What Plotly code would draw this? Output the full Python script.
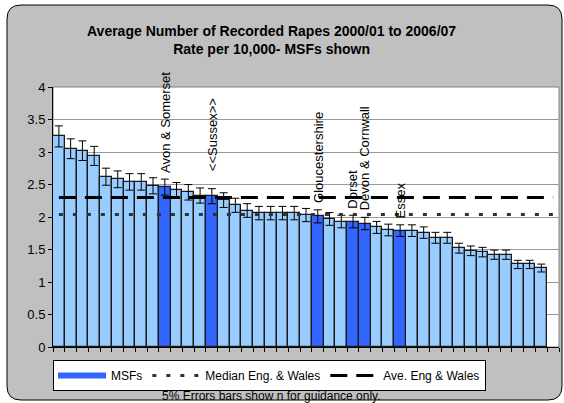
import plotly.graph_objects as go

# ---------------- data ----------------
values = [3.24, 3.05, 3.02, 2.94, 2.62, 2.58, 2.54, 2.54, 2.48, 2.46,
          2.41, 2.38, 2.33, 2.32, 2.26, 2.18, 2.10, 2.06, 2.06, 2.06,
          2.06, 2.03, 2.01, 1.97, 1.93, 1.93, 1.90, 1.84, 1.80, 1.79,
          1.79, 1.76, 1.68, 1.68, 1.52, 1.48, 1.46, 1.42, 1.42, 1.27,
          1.27, 1.215]
msf_labels = {10: "Avon & Somerset", 14: "<<Sussex>>", 23: "Gloucestershire",
              26: "Dorset", 27: "Devon & Cornwall", 30: "Essex"}
n_slots = 43
median_ew = 2.04
average_ew = 2.30
y_ticks = [0, 0.5, 1, 1.5, 2, 2.5, 3, 3.5, 4]
error_pct = 5

# label gap above bar (data units) - layout only
label_gap = {10: 0.19, 14: 0.36, 23: 0.18, 26: 0.16, 27: 0.17, 30: 0.16}

positions = list(range(1, len(values) + 1))
msf_x = [p for p in positions if p in msf_labels]
msf_y = [values[p - 1] for p in msf_x]
oth_x = [p for p in positions if p not in msf_labels]
oth_y = [values[p - 1] for p in oth_x]
slots = list(range(1, n_slots + 1))

W, H = 564, 403
L, R, T, B = 53, 5, 87, 56
PW, PH = W - L - R, H - T - B
FONT = "Liberation Sans, Arial, sans-serif"
LIGHT, DARK, EDGE = "#99CCFF", "#3366FF", "#1a1a1a"


def xp(px):
    return (px - L) / PW


def yp(py):
    return (H - B - py) / PH


fig = go.Figure()
err = dict(type="percent", value=error_pct, color="black", thickness=1, width=4)
fig.add_trace(go.Bar(x=oth_x, y=oth_y, width=1, showlegend=False,
                     marker=dict(color=LIGHT, line=dict(color=EDGE, width=1.3)),
                     error_y=err, hoverinfo="skip"))
fig.add_trace(go.Bar(x=msf_x, y=msf_y, width=1, name="MSFs", showlegend=False,
                     legendgroup="msf",
                     marker=dict(color=DARK, line=dict(color=EDGE, width=1.3)),
                     error_y=err))
# legend key for MSFs (wide bar-like swatch)
fig.add_trace(go.Scatter(x=[None], y=[None], mode="lines", name="MSFs",
                         legendgroup="msf",
                         line=dict(color=DARK, width=6)))
fig.add_trace(go.Scatter(x=slots, y=[median_ew] * n_slots, mode="lines",
                         name="Median Eng. & Wales",
                         line=dict(color="#333333", width=3, dash="4px,10px")))
fig.add_trace(go.Scatter(x=slots, y=[average_ew] * n_slots, mode="lines",
                         name="Ave. Eng & Wales",
                         line=dict(color="black", width=3, dash="17px,9px")))

# decorations: rounded chart border + plot area
x0, x1, y0, y1, r = 7, 562, 5, 400, 14
path = (f"M {xp(x0 + r)},{yp(y0)} L {xp(x1 - r)},{yp(y0)} "
        f"Q {xp(x1)},{yp(y0)} {xp(x1)},{yp(y0 + r)} "
        f"L {xp(x1)},{yp(y1 - r)} Q {xp(x1)},{yp(y1)} {xp(x1 - r)},{yp(y1)} "
        f"L {xp(x0 + r)},{yp(y1)} Q {xp(x0)},{yp(y1)} {xp(x0)},{yp(y1 - r)} "
        f"L {xp(x0)},{yp(y0 + r)} Q {xp(x0)},{yp(y0)} {xp(x0 + r)},{yp(y0)} Z")
shapes = [
    dict(type="path", xref="paper", yref="paper", path=path, fillcolor="#C0C0C0",
         line=dict(color="black", width=1), layer="below"),
    dict(type="rect", xref="paper", yref="paper", x0=0, x1=1, y0=0, y1=1,
         fillcolor="white", line=dict(color="#808080", width=1), layer="below"),
]

annotations = []
for p, txt in msf_labels.items():
    annotations.append(dict(x=p, y=values[p - 1] + label_gap[p], xref="x", yref="y",
                            text=txt, textangle=-90, showarrow=False,
                            yanchor="bottom", xanchor="center",
                            font=dict(family=FONT, size=13, color="black")))
annotations.append(dict(x=xp(271), y=yp(395.5), xref="paper", yref="paper",
                        text="5% Errors bars show n for guidance only.",
                        showarrow=False, xanchor="center", yanchor="middle",
                        font=dict(family=FONT, size=12, color="black")))
annotations.append(dict(x=xp(271), y=yp(40), xref="paper", yref="paper",
                        text="<b>Average Number of Recorded Rapes 2000/01 to 2006/07</b><br>"
                             "<b>Rate per 10,000- MSFs shown</b>",
                        showarrow=False, xanchor="center", yanchor="middle",
                        font=dict(family=FONT, size=14, color="black")))

fig.update_layout(
    width=W, height=H, margin=dict(l=L, r=R, t=T, b=B),
    paper_bgcolor="white", plot_bgcolor="rgba(0,0,0,0)",
    barmode="overlay", bargap=0,
    shapes=shapes, annotations=annotations,
    font=dict(family=FONT, size=13, color="black"),
    legend=dict(orientation="h", x=0, y=yp(360), xanchor="left", yanchor="top",
                bgcolor="white", bordercolor="black", borderwidth=1,
                itemwidth=48, tracegroupgap=0,
                font=dict(family=FONT, size=12, color="black")),
    xaxis=dict(range=[0.5, n_slots + 0.5], showgrid=False, zeroline=False,
               showline=True, linecolor="black", linewidth=1,
               tickmode="array", tickvals=[s - 0.5 for s in slots] + [n_slots + 0.5],
               showticklabels=False, ticks="outside", ticklen=4, tickcolor="black"),
    yaxis=dict(range=[0, 4], tickvals=y_ticks, showgrid=True, gridcolor="#999999",
               gridwidth=1, zeroline=False, showline=True, linecolor="black",
               linewidth=1, ticks="outside", ticklen=4, tickcolor="black",
               tickfont=dict(family=FONT, size=13, color="black")),
)

fig.write_html("out.html", config={"displayModeBar": False},
               post_script="document.body.style.margin='0px';"
                           "document.body.style.overflow='hidden';")
